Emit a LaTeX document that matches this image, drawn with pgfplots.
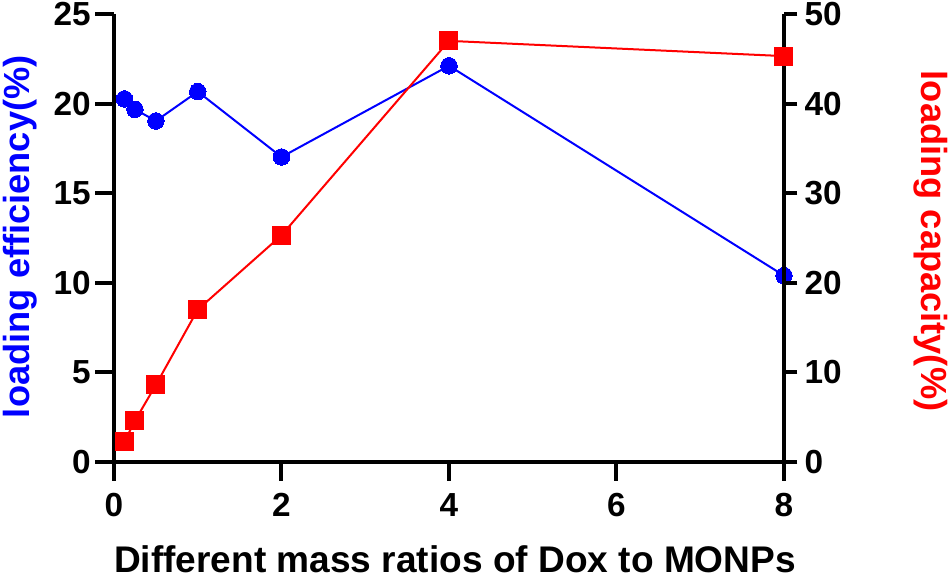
\documentclass[border=0pt]{standalone}
\usepackage{pgfplots}
\pgfplotsset{compat=1.18}
\usepackage{fontspec}
\setmainfont{Liberation Sans}
\definecolor{myblue}{RGB}{0,0,255}
\definecolor{myred}{RGB}{255,0,0}
\begin{document}
\begin{tikzpicture}
\pgfplotsset{
  common/.style={
    scale only axis, width=502.5pt, height=336pt,
    xmin=0, xmax=8,
    clip=false,
    at={(0,0)}, anchor=south west,
    /pgf/number format/assume math mode=true,
    tick label style={font=\fontsize{25}{29}\selectfont\bfseries, black},
    tick align=outside,
    major tick length=14pt,
    every tick/.style={black, line width=3pt},
    axis line style={-, line width=3pt, black},
  }
}
\begin{axis}[common,
  axis x line*=bottom, axis y line*=left,
  ymin=0, ymax=25,
  xtick={0,2,4,6,8}, ytick={0,5,10,15,20,25},
  xlabel={Different mass ratios of Dox to MONPs},
  ylabel={\textcolor{myblue}{loading efficiency(\%)}},
  xlabel style={font=\fontsize{27.8}{32}\selectfont\bfseries, at={(axis description cs:0.509,0)}, anchor=base, yshift=-83pt},
  ylabel style={font=\fontsize{27.2}{32}\selectfont\bfseries, at={(axis description cs:-0.140,0.503)}, anchor=center, rotate=0},
  xticklabel style={yshift=-6pt},
]
\addplot[myblue, line width=1.5pt, mark=*, mark size=6.2pt, mark options={fill=myblue, draw=myblue, line width=0pt}]
coordinates {(0.125,20.26) (0.25,19.68) (0.5,19.03) (1,20.67) (2,17.02) (4,22.11) (8,10.4)};
\end{axis}
\begin{axis}[common,
  axis x line=none, axis y line*=right,
  ymin=0, ymax=50,
  ytick={0,10,20,30,40,50},
  ylabel={\textcolor{myred}{loading capacity(\%)}},
  ylabel style={font=\fontsize{27.2}{32}\selectfont\bfseries, at={(axis description cs:1.219,0.493)}, anchor=center, rotate=180},
  major tick length=10pt,
  yticklabel style={xshift=2pt},
]
\addplot[myred, line width=1.5pt, mark=square*, mark size=6.75pt, mark options={fill=myred, draw=myred, line width=0pt}]
coordinates {(0.125,2.27) (0.25,4.6) (0.5,8.6) (1,17.0) (2,25.3) (4,47.0) (8,45.3)};
\end{axis}
\pgfresetboundingbox
\path[use as bounding box] (-85.5pt,-88.5pt) rectangle (626.25pt,346.5pt);
\end{tikzpicture}
\end{document}
